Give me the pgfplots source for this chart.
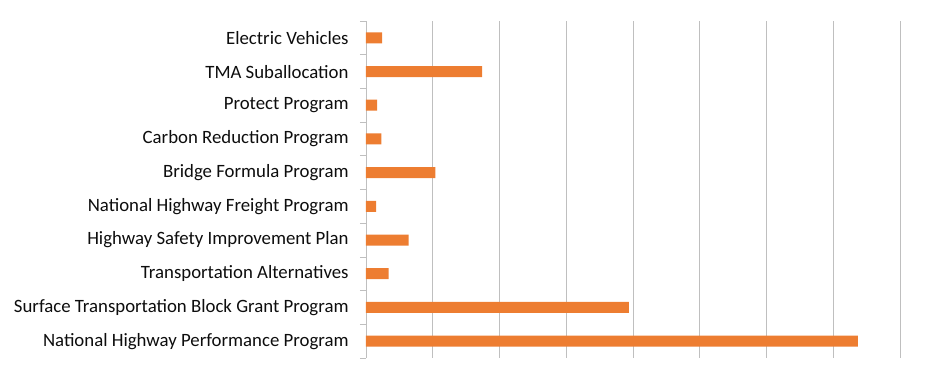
\documentclass[border=0pt]{standalone}
\usepackage{pgfplots}
\pgfplotsset{compat=1.18}
\usepackage{fontspec}
\setmainfont{Carlito}
\definecolor{barorange}{RGB}{237,125,49}
\definecolor{gridgray}{RGB}{191,191,191}
\definecolor{labeltext}{RGB}{13,13,13}
\begin{document}
\begin{tikzpicture}
\begin{axis}[
  at={(0,0)}, anchor=south west,
  scale only axis,
  width=534bp, height=337bp,
  xbar, bar width=11bp,
  xmin=0, xmax=8,
  ymin=-0.5, ymax=9.5,
  xtick={0,1,...,8},
  xticklabels={},
  xmajorgrids,
  grid style={gridgray, line width=0.8pt},
  major x tick style={draw=none},
  ytick={0,...,9},
  yticklabels={National Highway Performance Program,Surface Transportation Block Grant Program,Transportation Alternatives,Highway Safety Improvement Plan,National Highway Freight Program,Bridge Formula Program,Carbon Reduction Program,Protect Program,TMA Suballocation,Electric Vehicles},
  minor ytick={-0.5,0.5,...,9.5},
  major y tick style={draw=none},
  minor y tick style={gridgray, line width=0.8pt},
  minor tick length=6bp,
  tick align=outside,
  axis y line*=left,
  axis x line*=bottom,
  x axis line style={draw=none},
  y axis line style={gridgray, line width=0.8pt},
  yticklabel style={font=\fontsize{18.8bp}{22bp}\selectfont, text=labeltext, inner sep=0pt, xshift=-13bp},
  clip=false,
]
\addplot[draw=none, fill=barorange] coordinates {
  (7.37,0) (3.94,1) (0.34,2) (0.64,3) (0.15,4) (1.04,5) (0.23,6) (0.165,7) (1.74,8) (0.24,9)
};
\end{axis}
\path[use as bounding box] (-366bp,-8bp) rectangle (584bp,358bp);
\end{tikzpicture}
\end{document}
